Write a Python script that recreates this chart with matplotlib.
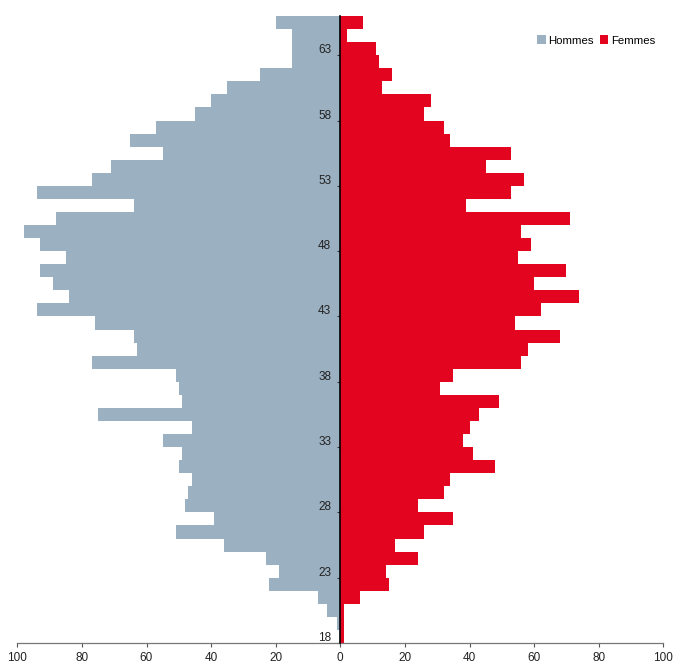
import matplotlib
matplotlib.use('Agg')
import matplotlib.pyplot as plt
import matplotlib.transforms as mtransforms
from matplotlib.patches import Patch

plt.rcParams['font.family'] = ['Liberation Sans', 'DejaVu Sans']

# ages 18 -> 65
ages = list(range(18, 66))
hommes = [0, 1, 4, 7, 22, 19, 23, 36, 51, 39,
          48, 47, 46, 50, 49, 55, 46, 75, 49, 50,
          51, 77, 63, 64, 76, 94, 84, 89, 93, 85,
          93, 98, 88, 64, 94, 77, 71, 55, 65, 57,
          45, 40, 35, 25, 15, 15, 15, 20]
femmes = [1, 1, 1, 6, 15, 14, 24, 17, 26, 35,
          24, 32, 34, 48, 41, 38, 40, 43, 49, 31,
          35, 56, 58, 68, 54, 62, 74, 60, 70, 55,
          59, 56, 71, 39, 53, 57, 45, 53, 34, 32,
          26, 28, 13, 16, 12, 11, 2, 7]
age_ticks = list(range(18, 64, 5))
x_ticks = [-100, -80, -60, -40, -20, 0, 20, 40, 60, 80, 100]

col_h = '#9bb0c1'
col_f = '#e30520'

fig = plt.figure(figsize=(6.74, 6.64), dpi=100)
ax = fig.add_axes([17.3 / 674, 21 / 664, 646 / 674, 640 / 664])

ax.barh(ages, [-v for v in hommes], height=1, align='edge', color=col_h, linewidth=0)
ax.barh(ages, femmes, height=1, align='edge', color=col_f, linewidth=0)

ax.set_xlim(-100, 100)
ax.set_ylim(18, 67)

# axes / spines
for s in ['top', 'right']:
    ax.spines[s].set_visible(False)
ax.spines['left'].set_position(('data', 0))
ax.spines['left'].set_bounds(18, 66)
ax.spines['left'].set_color('black')
ax.spines['left'].set_linewidth(1.2)
ax.spines['left'].set_zorder(5)
ax.spines['bottom'].set_color('#777777')
ax.spines['bottom'].set_linewidth(0.9)

ax.set_xticks(x_ticks)
ax.set_xticklabels([str(abs(v)) for v in x_ticks])
ax.set_yticks(age_ticks)
ax.set_yticklabels([str(a) for a in age_ticks])

ax.tick_params(axis='x', length=3, width=0.8, color='#555555', pad=3.5,
               labelsize=8.5, labelcolor='#222222')
ax.tick_params(axis='y', length=2.5, width=0.8, color='#333333', pad=4,
               labelsize=8.5, labelcolor='#222222')

# y labels sit half a bar above their tick
offset = mtransforms.ScaledTranslation(0, 6.5 / 100, fig.dpi_scale_trans)
for lab in ax.get_yticklabels():
    lab.set_transform(lab.get_transform() + offset)

handles = [Patch(facecolor=col_h, label='Hommes'), Patch(facecolor=col_f, label='Femmes')]
fig.legend(handles=handles, loc='center left', bbox_to_anchor=(537 / 674, 1 - 40.5 / 664),
           ncol=2, frameon=False, fontsize=8.2, handlelength=0.75, handleheight=0.75,
           handletextpad=0.25, columnspacing=0.5, borderpad=0, borderaxespad=0)

fig.savefig('out.png', dpi=100)
